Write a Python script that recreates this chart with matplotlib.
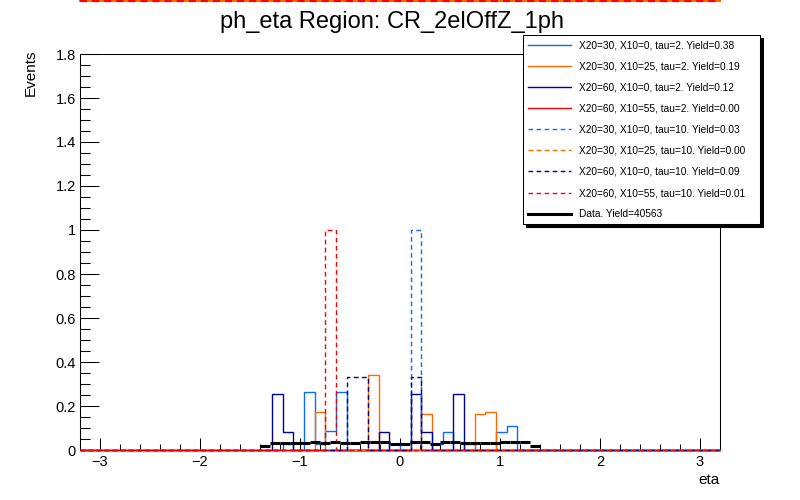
import numpy as np
import matplotlib
matplotlib.use('Agg')
import matplotlib.pyplot as plt
import matplotlib.transforms as mtransforms
from matplotlib.lines import Line2D
from matplotlib.ticker import MultipleLocator, FuncFormatter

plt.rcParams['font.family'] = ['Liberation Sans', 'DejaVu Sans']

# binning of the signal histograms
n_bins = 60
eta_lo, eta_hi = -3.2, 3.2

# signal shapes, unit normalised: filled bin index and content
bins_30_0_t2 = [19, 21, 22, 23, 24, 29, 33, 34, 36, 39, 40]
vals_30_0_t2 = [0.027, 0.262, 0.027, 0.085, 0.262, 0.027, 0.027, 0.080, 0.027, 0.080, 0.108]
bins_30_25_t2 = [22, 27, 32, 37, 38]
vals_30_25_t2 = [0.171, 0.339, 0.164, 0.162, 0.171]
bins_60_0_t2 = [18, 19, 28, 31, 32, 35]
vals_60_0_t2 = [0.253, 0.080, 0.080, 0.253, 0.080, 0.253]
bins_60_55_t2 = []
vals_60_55_t2 = []
bins_30_0_t10 = [31]
vals_30_0_t10 = [1.0]
bins_30_25_t10 = []
vals_30_25_t10 = []
bins_60_0_t10 = [25, 26, 31]
vals_60_0_t10 = [0.333, 0.333, 0.333]
bins_60_55_t10 = [23]
vals_60_55_t10 = [1.0]

# data, unit normalised, 0.1 wide bins from -1.4 to 1.4
data_lo, data_hi = -1.4, 1.4
data_vals = [0.019, 0.031, 0.031, 0.031, 0.033, 0.038, 0.033, 0.038, 0.031, 0.031,
             0.036, 0.036, 0.035, 0.028, 0.028, 0.036, 0.036, 0.028, 0.036, 0.035,
             0.031, 0.031, 0.031, 0.033, 0.036, 0.036, 0.036, 0.019]

labels = ['X20=30, X10=0, tau=2. Yield=0.38',
          'X20=30, X10=25, tau=2. Yield=0.19',
          'X20=60, X10=0, tau=2. Yield=0.12',
          'X20=60, X10=55, tau=2. Yield=0.00',
          'X20=30, X10=0, tau=10. Yield=0.03',
          'X20=30, X10=25, tau=10. Yield=0.00',
          'X20=60, X10=0, tau=10. Yield=0.09',
          'X20=60, X10=55, tau=10. Yield=0.01']
data_label = 'Data. Yield=40563'

colors = ['#0a6cff', '#ff6a00', '#00009a', '#ff0000'] * 2
styles = ['solid'] * 4 + ['dashed'] * 4
dash = (3.4, 2.4)

series = [(bins_30_0_t2, vals_30_0_t2), (bins_30_25_t2, vals_30_25_t2),
          (bins_60_0_t2, vals_60_0_t2), (bins_60_55_t2, vals_60_55_t2),
          (bins_30_0_t10, vals_30_0_t10), (bins_30_25_t10, vals_30_25_t10),
          (bins_60_0_t10, vals_60_0_t10), (bins_60_55_t10, vals_60_55_t10)]


def fill(bins, vals):
    h = np.zeros(n_bins)
    h[bins] = vals
    return h


edges = np.linspace(eta_lo, eta_hi, n_bins + 1)

fig = plt.figure(figsize=(8, 5), dpi=100)
ax = fig.add_axes([0.1, 0.1, 0.8, 0.792])

handles = []
for i, (b, v) in enumerate(series):
    h = fill(b, v)
    st = ax.stairs(h, edges, baseline=None, color=colors[i], lw=1.0, clip_on=False,
                   zorder=3)
    if styles[i] == 'dashed':
        st.set_linestyle((0, dash))
    handles.append(Line2D([], [], color=colors[i], lw=1.0,
                          linestyle=(0, dash) if styles[i] == 'dashed' else '-'))

d_edges = np.linspace(data_lo, data_hi, len(data_vals) + 1)
d_x = 0.5 * (d_edges[1:] + d_edges[:-1])
d_w = 0.5 * (d_edges[1:] - d_edges[:-1])
ax.errorbar(d_x, data_vals, xerr=d_w, yerr=0.001, fmt='none', ecolor='black',
            elinewidth=2.2, capsize=0, zorder=5)
handles.append(Line2D([], [], color='black', lw=2.2))

ax.set_xlim(eta_lo, eta_hi)
ax.set_ylim(0, 1.8)

ax.xaxis.set_major_locator(MultipleLocator(1))
ax.xaxis.set_minor_locator(MultipleLocator(0.2))
ax.yaxis.set_major_locator(MultipleLocator(0.2))
ax.yaxis.set_minor_locator(MultipleLocator(0.05))
ax.yaxis.set_major_formatter(FuncFormatter(lambda v, _: f'{v:g}'))

ax.tick_params(which='both', direction='in', top=False, right=False, width=0.75,
               labelsize=10.5)
ax.tick_params(axis='x', which='major', length=8.6, pad=3.6)
ax.tick_params(axis='x', which='minor', length=4.3)
ax.tick_params(axis='y', which='major', length=13.7, pad=3)
ax.tick_params(axis='y', which='minor', length=7.2)
for s in ax.spines.values():
    s.set_linewidth(0.75)

# stray empty-histogram line at the very top of the canvas
trans = mtransforms.blended_transform_factory(ax.transAxes, fig.transFigure)
ax.plot([0, 1], [0.999, 0.999], transform=trans, color='#ff6a00', lw=1.5, clip_on=False)
ax.plot([0, 1], [0.999, 0.999], transform=trans, color='#ff0000', lw=1.5,
        linestyle=(0, dash), clip_on=False)

fig.text(0.49, 0.944, 'ph_eta Region: CR_2elOffZ_1ph', ha='center', va='baseline', fontsize=17)
fig.text(0.039, 0.9, 'Events', rotation=90, ha='center', va='top', fontsize=11)
fig.text(0.9, 0.032, 'eta', ha='right', va='baseline', fontsize=11)

leg = fig.legend(handles, labels + [data_label], loc='upper left',
                 bbox_to_anchor=(0.654, 0.55, 0.296, 0.38), mode='expand',
                 fontsize=7.3, frameon=True, fancybox=False,
                 shadow={'color': 'black', 'alpha': 1},
                 borderpad=0.5, labelspacing=1.1, handlelength=4.2,
                 handletextpad=0.8, borderaxespad=0)
leg.get_frame().set_edgecolor('black')
leg.get_frame().set_linewidth(0.75)
leg.get_frame().set_alpha(1)

fig.savefig('out.png', dpi=100)
